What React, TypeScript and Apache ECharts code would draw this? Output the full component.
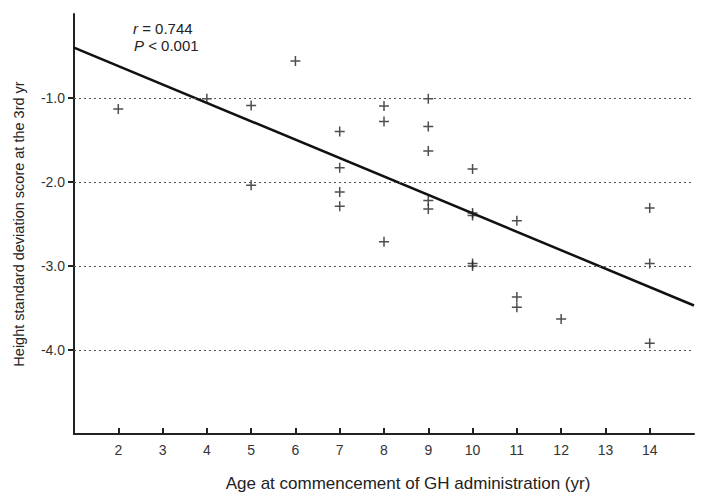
import React, { useEffect, useRef } from "react";
import * as echarts from "echarts";

const ages = [2, 4, 5, 5, 6, 7, 7, 7, 7, 8, 8, 8, 9, 9, 9, 9, 9, 10, 10, 10, 10, 10, 11, 11, 11, 12, 14, 14, 14];
const sdScores = [-1.13, -1.01, -1.09, -2.04, -0.56, -1.4, -1.83, -2.12, -2.29, -1.095, -1.28, -2.71, -1.01, -1.34, -1.63, -2.22, -2.32, -1.845, -2.37, -2.4, -2.97, -3.0, -2.46, -3.37, -3.49, -3.63, -2.31, -2.97, -3.92];
const fitLineX = [1, 15];
const fitLineY = [-0.4, -3.47];
const xTicks = [2, 3, 4, 5, 6, 7, 8, 9, 10, 11, 12, 13, 14];
const yTicks = [-1, -2, -3, -4];
const annotationR = "0.744";
const annotationP = "< 0.001";

const FONT = "Liberation Sans, Arial, sans-serif";

export default function App() {
  const ref = useRef<HTMLDivElement>(null);
  useEffect(() => {
    if (!ref.current) return;
    const chart = echarts.init(ref.current, null, { renderer: "svg" });
    chart.setOption({
      animation: false,
      backgroundColor: "#ffffff",
      grid: { left: 74, top: 14, right: 23, bottom: 64 },
      xAxis: {
        type: "value",
        min: 1,
        max: 15,
        interval: 1,
        name: "Age at commencement of GH administration (yr)",
        nameLocation: "middle",
        nameGap: 41,
        nameTextStyle: { fontFamily: FONT, fontSize: 17, color: "#222", padding: [0, 0, 0, 48] },
        axisLine: { onZero: false, lineStyle: { color: "#222", width: 2 } },
        axisTick: { show: true, inside: true, length: 6, customValues: xTicks, lineStyle: { color: "#222", width: 2 } },
        axisLabel: { customValues: xTicks, fontFamily: FONT, fontSize: 14, color: "#333", margin: 9 },
        splitLine: { show: false },
      },
      yAxis: {
        type: "value",
        min: -5,
        max: 0,
        interval: 1,
        name: "Height standard deviation score at the 3rd yr",
        nameLocation: "middle",
        nameGap: 48,
        nameTextStyle: { fontFamily: FONT, fontSize: 14.5, color: "#222" },
        axisLine: { show: true, onZero: false, lineStyle: { color: "#222", width: 2 } },
        axisTick: { show: true, inside: false, length: 6, customValues: yTicks, lineStyle: { color: "#222", width: 2 } },
        axisLabel: {
          customValues: yTicks,
          fontFamily: FONT,
          fontSize: 14,
          color: "#333",
          margin: 9,
          formatter: (v: number) => v.toFixed(1),
        },
        splitLine: { show: false },
      },
      graphic: [
        {
          type: "text",
          left: 133,
          top: 21,
          style: {
            text: "{i|r} = " + annotationR,
            fontFamily: FONT,
            fontSize: 15,
            fill: "#222",
            rich: { i: { fontStyle: "italic", fontFamily: FONT, fontSize: 15, fill: "#222" } },
          },
        },
        {
          type: "text",
          left: 134,
          top: 38,
          style: {
            text: "{i|P} " + annotationP,
            fontFamily: FONT,
            fontSize: 15,
            fill: "#222",
            rich: { i: { fontStyle: "italic", fontFamily: FONT, fontSize: 15, fill: "#222" } },
          },
        },
      ],
      series: [
        {
          type: "line",
          data: fitLineX.map((x, i) => [x, fitLineY[i]]),
          symbol: "none",
          lineStyle: { color: "#111", width: 2.5 },
          silent: true,
          markLine: {
            silent: true,
            symbol: "none",
            label: { show: false },
            lineStyle: { color: "#555", type: [2, 3], width: 1 },
            data: yTicks.map((v) => ({ yAxis: v })),
          },
          z: 3,
        },
        {
          type: "scatter",
          data: ages.map((x, i) => [x, sdScores[i]]),
          symbol: "path://M4.25,0 L5.75,0 L5.75,4.25 L10,4.25 L10,5.75 L5.75,5.75 L5.75,10 L4.25,10 L4.25,5.75 L0,5.75 L0,4.25 L4.25,4.25 Z",
          symbolSize: 10,
          itemStyle: { color: "#222" },
          z: 4,
        },
      ],
    });
    return () => chart.dispose();
  }, []);
  return <div ref={ref} style={{ width: 717, height: 498, position: "absolute", left: 0, top: 0 }} />;
}
